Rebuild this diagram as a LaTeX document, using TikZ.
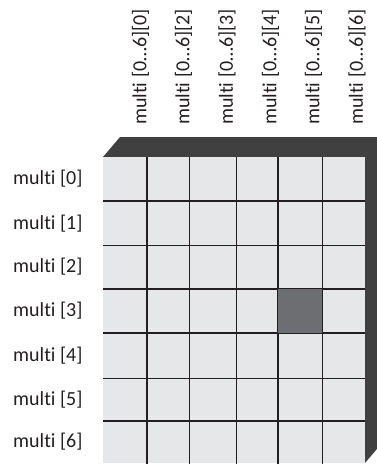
\documentclass[tikz,border=0pt]{standalone}
\usepackage{fontspec}
\setmainfont{Carlito}[Ligatures={NoCommon}]
\definecolor{matcolor0000}{RGB}{230,231,232}
\definecolor{matcolor0001}{RGB}{35,31,32}
\definecolor{matcolor0002}{RGB}{64,64,64}
\definecolor{matcolor0003}{RGB}{109,110,113}
\begin{document}
\begin{tikzpicture}[yscale=-1
                ,mstyle1/.style={fill=matcolor0002,draw=none}
                ,mstyle2/.style={fill=matcolor0000,draw=none}
                ,mstyle3/.style={color=matcolor0001,line width=1.8pt}
                ,mstyle4/.style={fill=matcolor0003,draw=none}
                ,mstyle5/.style={color=matcolor0001,font=\fontsize{20pt}{23pt}\selectfont,inner sep=0pt}
                ,mstyle6/.style={mstyle5,rotate=90,anchor=west}
            ]
            \useasboundingbox (0pt,0pt) rectangle (377pt,464pt);
            \clip (0pt,0pt) rectangle (377pt,464pt);
            % top and side of the block
            \fill[mstyle1] (103pt,157pt) -- (120pt,137pt) -- (382pt,137pt) -- (382pt,443pt) -- (365pt,463pt) -- (365pt,157pt) -- cycle;
            % front face
            \fill[mstyle2] (103pt,157pt) rectangle (365pt,463pt);
            % grid lines
            \draw[mstyle3] (147pt,157pt) -- (147pt,464pt);
            \draw[mstyle3] (189.5pt,157pt) -- (189.5pt,464pt);
            \draw[mstyle3] (236.5pt,157pt) -- (236.5pt,464pt);
            \draw[mstyle3] (278pt,157pt) -- (278pt,464pt);
            \draw[mstyle3] (322.5pt,157pt) -- (322.5pt,464pt);
            \draw[mstyle3] (103pt,201pt) -- (365pt,201pt);
            \draw[mstyle3] (103pt,245.5pt) -- (365pt,245.5pt);
            \draw[mstyle3] (103pt,289pt) -- (365pt,289pt);
            \draw[mstyle3] (103pt,333pt) -- (365pt,333pt);
            \draw[mstyle3] (103pt,378.5pt) -- (365pt,378.5pt);
            \draw[mstyle3] (103pt,421pt) -- (365pt,421pt);
            % selected element
            \fill[mstyle4] (277.5pt,288.5pt) rectangle (322pt,332.5pt);
            % row labels
            \node (row0) at (13pt,179pt)[mstyle5,anchor=west]{multi [0]};
            \node (row1) at (13pt,223.5pt)[mstyle5,anchor=west]{multi [1]};
            \node (row2) at (13pt,267pt)[mstyle5,anchor=west]{multi [2]};
            \node (row3) at (13pt,311pt)[mstyle5,anchor=west]{multi [3]};
            \node (row4) at (13pt,356pt)[mstyle5,anchor=west]{multi [4]};
            \node (row5) at (13pt,400pt)[mstyle5,anchor=west]{multi [5]};
            \node (row6) at (13pt,442pt)[mstyle5,anchor=west]{multi [6]};
            % column labels
            \node (col0) at (140.5pt,125pt)[mstyle6]{multi [0…6][0]};
            \node (col2) at (183.5pt,125pt)[mstyle6]{multi [0…6][2]};
            \node (col3) at (227pt,125pt)[mstyle6]{multi [0…6][3]};
            \node (col4) at (270.5pt,125pt)[mstyle6]{multi [0…6][4]};
            \node (col5) at (313.5pt,125pt)[mstyle6]{multi [0…6][5]};
            \node (col6) at (357pt,125pt)[mstyle6]{multi [0…6][6]};
        \end{tikzpicture}
\end{document}
